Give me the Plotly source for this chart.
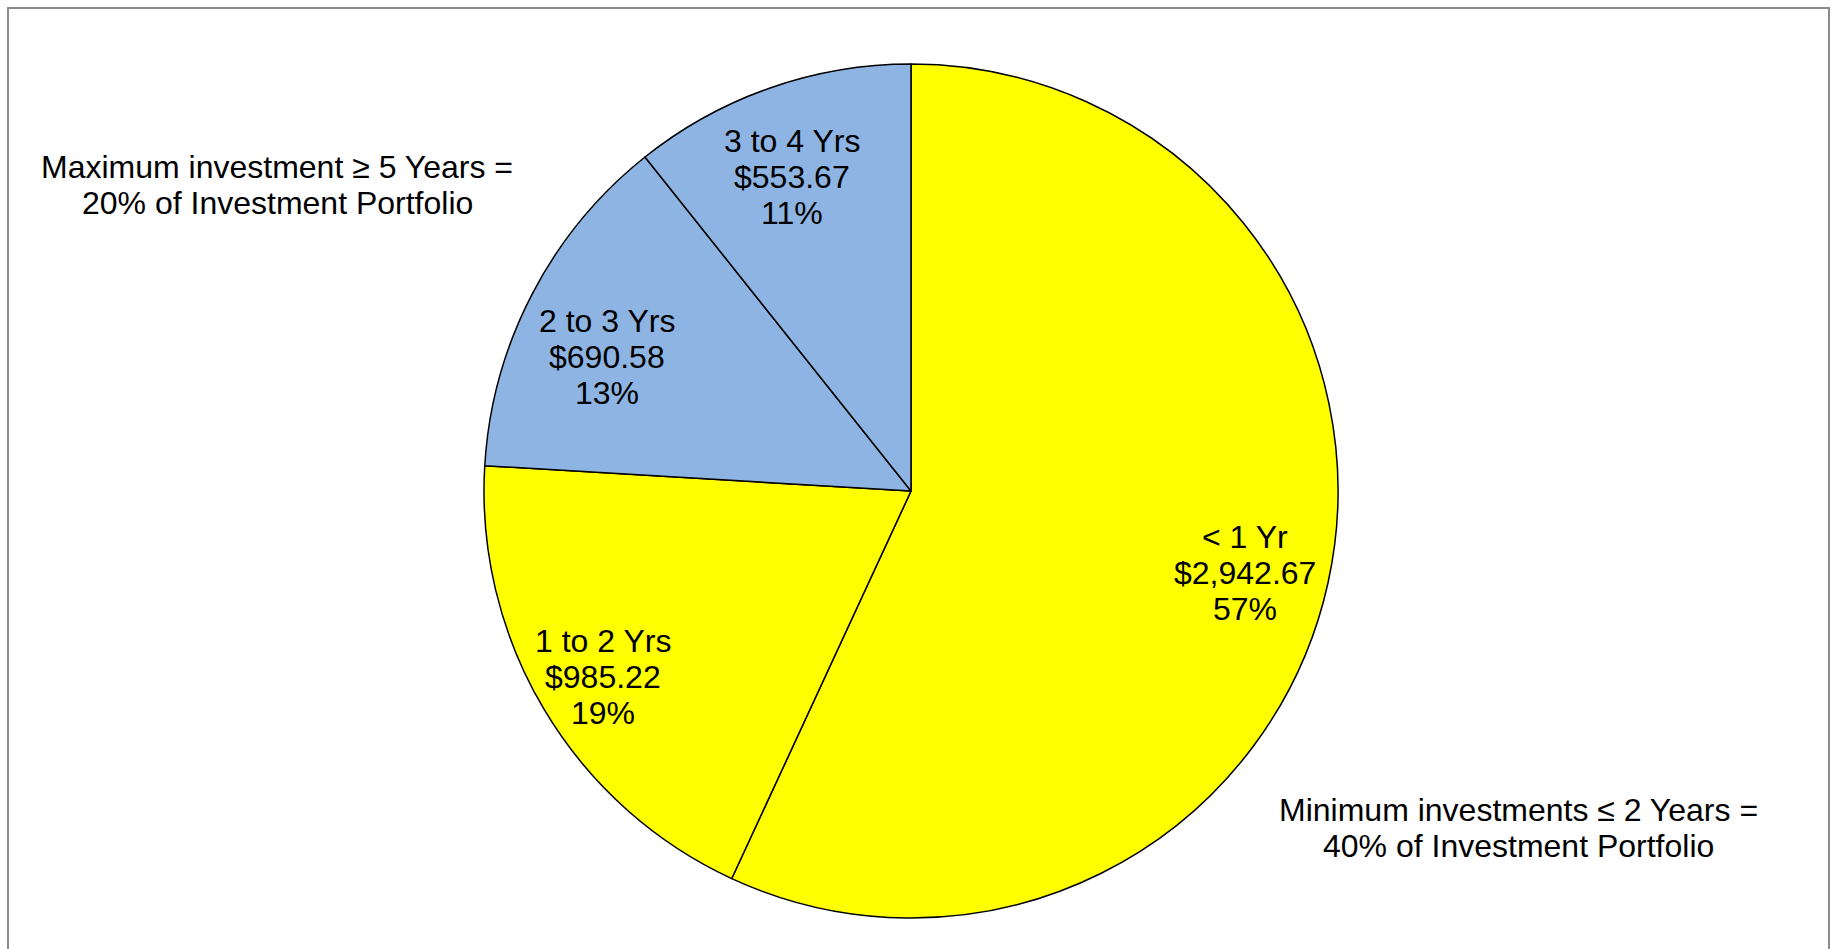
import math
import plotly.graph_objects as go

labels = ["< 1 Yr", "1 to 2 Yrs", "2 to 3 Yrs", "3 to 4 Yrs"]
values = [2942.67, 985.22, 690.58, 553.67]
colors = ["#FFFF00", "#FFFF00", "#8DB4E2", "#8DB4E2"]

# data-label placement (fraction of radius, angular nudge in degrees)
label_radius = [0.805, 0.84, 0.78, 0.79]
label_shift = [1.0, 0.0, -3.4, -1.3]

note_max = ["Maximum investment ≥ 5 Years =", "20% of Investment Portfolio"]
note_min = ["Minimum investments ≤ 2 Years =", "40% of Investment Portfolio"]

W, H = 1836, 949
cx, cy, r = 911, 491, 427
FONT = "Liberation Sans, Arial, sans-serif"
FS = 32
LINE = 36  # px between text lines


def add_lines(fig, lines, xc, yc):
    n = len(lines)
    for i, t in enumerate(lines):
        y = yc + (i - (n - 1) / 2) * LINE
        fig.add_annotation(text=t, x=xc / W, y=1 - y / H, xref="paper", yref="paper",
                           showarrow=False, xanchor="center", yanchor="middle", align="center",
                           font=dict(family=FONT, size=FS, color="black"))


fig = go.Figure(go.Pie(
    labels=labels,
    values=values,
    sort=False,
    direction="clockwise",
    rotation=0,
    marker=dict(colors=colors, line=dict(color="black", width=1.5)),
    textinfo="none",
    showlegend=False,
    hoverinfo="label+value+percent",
    domain=dict(x=[(cx - r) / W, (cx + r) / W], y=[(H - cy - r) / H, (H - cy + r) / H]),
))

total = sum(values)
cum = 0.0
for lab, v, rf, sh in zip(labels, values, label_radius, label_shift):
    mid = ((cum + v / 2) / total * 360 + sh) * math.pi / 180
    cum += v
    px = cx + rf * r * math.sin(mid)
    py = cy - rf * r * math.cos(mid)
    add_lines(fig, [lab, f"${v:,.2f}", f"{round(v / total * 100)}%"], px, py + 2)

add_lines(fig, note_max, 277, 183 + 2)
add_lines(fig, note_min, 1518, 826 + 2)

fig.add_shape(type="rect", xref="paper", yref="paper",
              x0=8 / W, x1=1829 / W, y0=-0.05, y1=1 - 8 / H,
              line=dict(color="#8C8C8C", width=2), fillcolor="rgba(0,0,0,0)", layer="below")

fig.update_layout(
    width=W, height=H,
    margin=dict(l=0, r=0, t=0, b=0),
    paper_bgcolor="white",
    plot_bgcolor="white",
)

fig.write_html("out.html")
